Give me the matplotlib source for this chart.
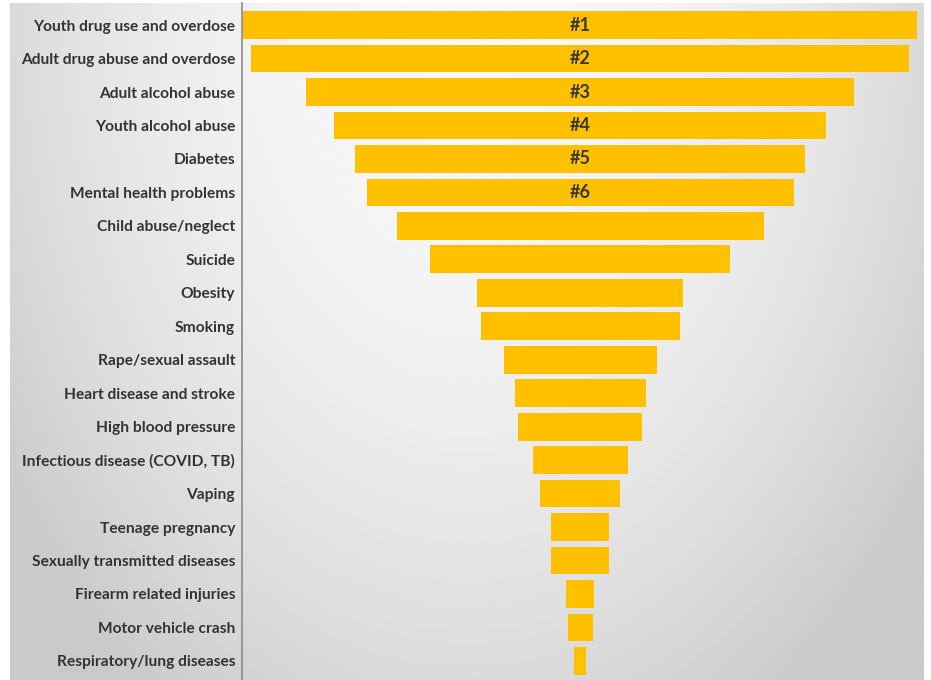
import matplotlib.pyplot as plt
import numpy as np

plt.rcParams['font.family'] = ['Lato', 'DejaVu Sans']

issues = ['Youth drug use and overdose', 'Adult drug abuse and overdose', 'Adult alcohol abuse',
          'Youth alcohol abuse', 'Diabetes', 'Mental health problems', 'Child abuse/neglect',
          'Suicide', 'Obesity', 'Smoking', 'Rape/sexual assault', 'Heart disease and stroke',
          'High blood pressure', 'Infectious disease (COVID, TB)', 'Vaping', 'Teenage pregnancy',
          'Sexually transmitted diseases', 'Firearm related injuries', 'Motor vehicle crash',
          'Respiratory/lung diseases']
values = [67.4, 65.8, 54.8, 49.2, 45.0, 42.7, 36.7, 30.0, 20.6, 19.9,
          15.3, 13.1, 12.4, 9.5, 8.0, 5.8, 5.8, 2.8, 2.5, 1.2]
ranks = ['#1', '#2', '#3', '#4', '#5', '#6']

fig = plt.figure(figsize=(9.31, 6.8), dpi=100)

# grey radial-ish background panel
bg = fig.add_axes([10/931, 0, 914/931, 677/680])
xx, yy = np.meshgrid(np.linspace(0, 1, 400), np.linspace(0, 1, 300))
d2 = ((xx - 0.5) / 0.5)**2 + yy**2
shade = np.clip(0.975 - 0.12 * d2, 0.79, 1)
bg.imshow(shade, cmap='gray', vmin=0, vmax=1, aspect='auto', extent=[0, 1, 1, 0])
bg.set_axis_off()

ax = fig.add_axes([242/931, 0, 676/931, 677/680])
ax.patch.set_alpha(0)
y = np.arange(len(issues))
v = np.array(values)
ax.barh(y, v, left=-v/2, height=0.83, color='#ffc000')
for i, r in enumerate(ranks):
    ax.text(0, i, r, ha='center', va='center', fontsize=13, fontweight='bold', color='#383838')

ax.set_xlim(-33.8, 33.8)
ax.set_ylim(19.57, -0.66)
ax.set_yticks(y)
ax.set_yticklabels(issues, fontsize=11.2, fontweight='bold', color='#333333')
ax.tick_params(axis='y', length=0, pad=5)
ax.set_xticks([])
for s in ['top', 'right', 'bottom']:
    ax.spines[s].set_visible(False)
ax.spines['left'].set_color('#8a8a8a')
ax.spines['left'].set_linewidth(1.2)

fig.savefig('out.png', dpi=100)
